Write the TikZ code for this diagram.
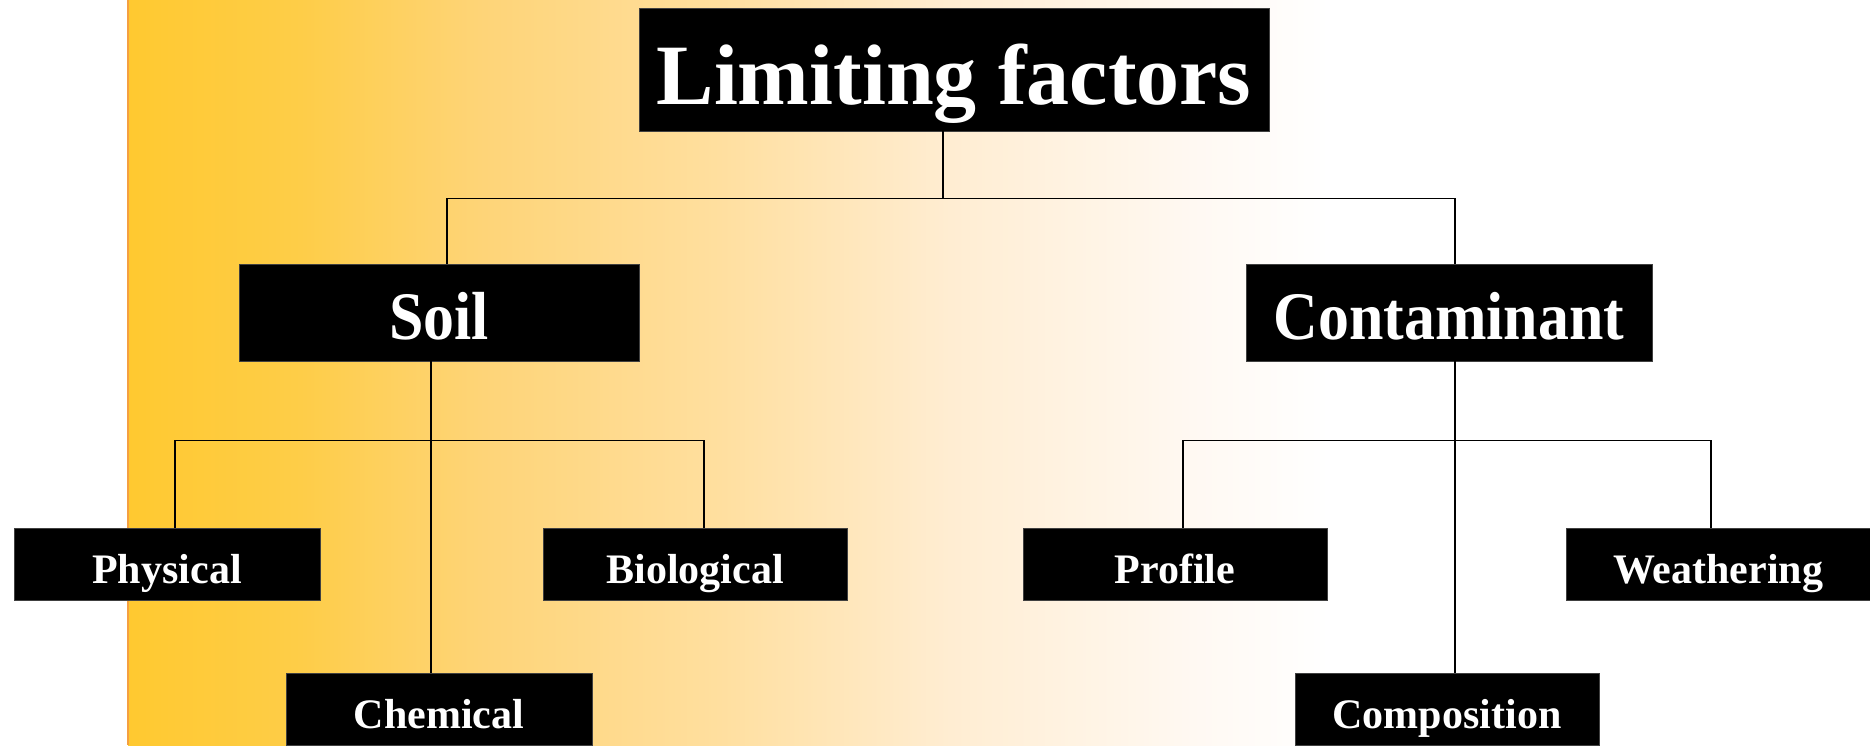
\documentclass[tikz,border=0pt]{standalone}
\usepackage{fontspec}
\usepackage{graphicx}
\setmainfont{Liberation Serif}

% warm background band colours, left to right
\definecolor{g0}{HTML}{FFC930}
\definecolor{g1}{HTML}{FECD48}
\definecolor{g2}{HTML}{FED477}
\definecolor{g3}{HTML}{FFDF9F}
\definecolor{g4}{HTML}{FFEDD2}
\definecolor{g5}{HTML}{FFF9F3}
\definecolor{edgeorange}{HTML}{F5A040}

\pgfdeclarehorizontalshading{warmband}{100bp}{%
  color(0bp)=(g0); color(25bp)=(g0); color(32.2bp)=(g1); color(39.6bp)=(g2);
  color(49.6bp)=(g3); color(59.2bp)=(g4); color(69.6bp)=(g5);
  color(75bp)=(white); color(100bp)=(white)}

\begin{document}
\begin{tikzpicture}[x=1pt, y=-1pt,
  box/.style={fill=black, draw=black!75, line width=0.8pt, text=white, inner sep=0pt},
  bigbox/.style={box, font=\bfseries\fontsize{86}{90}\selectfont,
    text height=69.4pt, text depth=0pt},
  midbox/.style={box, font=\bfseries\fontsize{68}{72}\selectfont,
    text height=54.2pt, text depth=0pt},
  smallbox/.style={box, font=\bfseries\fontsize{42}{46}\selectfont,
    text height=38.5pt, text depth=0pt,
    minimum width=304pt, minimum height=72pt},
  link/.style={draw=black, line width=1.6pt}]

\useasboundingbox (0,0) rectangle (1870,745);
\fill[white] (0,0) rectangle (1870,745);

% background gradient with its orange left edge
\shade[shading=warmband] (128,0) rectangle (1330,745);
\draw[edgeorange, line width=1.5pt] (128,0) -- (128,745);

% boxes
\node[bigbox, minimum width=630pt, minimum height=123pt] (top) at (954,69.5) {Limiting factors};
\node[midbox, minimum width=400pt, minimum height=97pt] (soil) at (439,312.5) {\scalebox{0.91}[1]{Soil}};
\node[midbox, minimum width=406pt, minimum height=97pt] (contam) at (1449,312.5) {\scalebox{0.91}[1]{Contaminant}};

\node[smallbox, minimum width=306pt] (phys) at (167,564) {Physical};
\node[smallbox] (bio) at (695,564) {Biological};
\node[smallbox, minimum width=306pt] (chem) at (439,709) {Chemical};

\node[smallbox] (prof) at (1175,564) {Profile};
\node[smallbox] (weath) at (1718,564) {Weathering};
\node[smallbox] (comp) at (1447,709) {Composition};

% first level
\draw[link] ([xshift=-11pt]top.south) -- ++(0,68);
\draw[link] ([xshift=8pt]soil.north) -- ++(0,-65) -| ([xshift=6pt]contam.north);

% soil branch
\draw[link] ([xshift=-8pt]soil.south) -- ([xshift=-8pt]chem.north);
\draw[link] ([xshift=8pt]phys.north) -- ++(0,-87) -| ([xshift=9pt]bio.north);

% contaminant branch
\draw[link] ([xshift=6pt]contam.south) -- ([xshift=8pt]comp.north);
\draw[link] ([xshift=8pt]prof.north) -- ++(0,-87) -| ([xshift=-7pt]weath.north);
\end{tikzpicture}
\end{document}
